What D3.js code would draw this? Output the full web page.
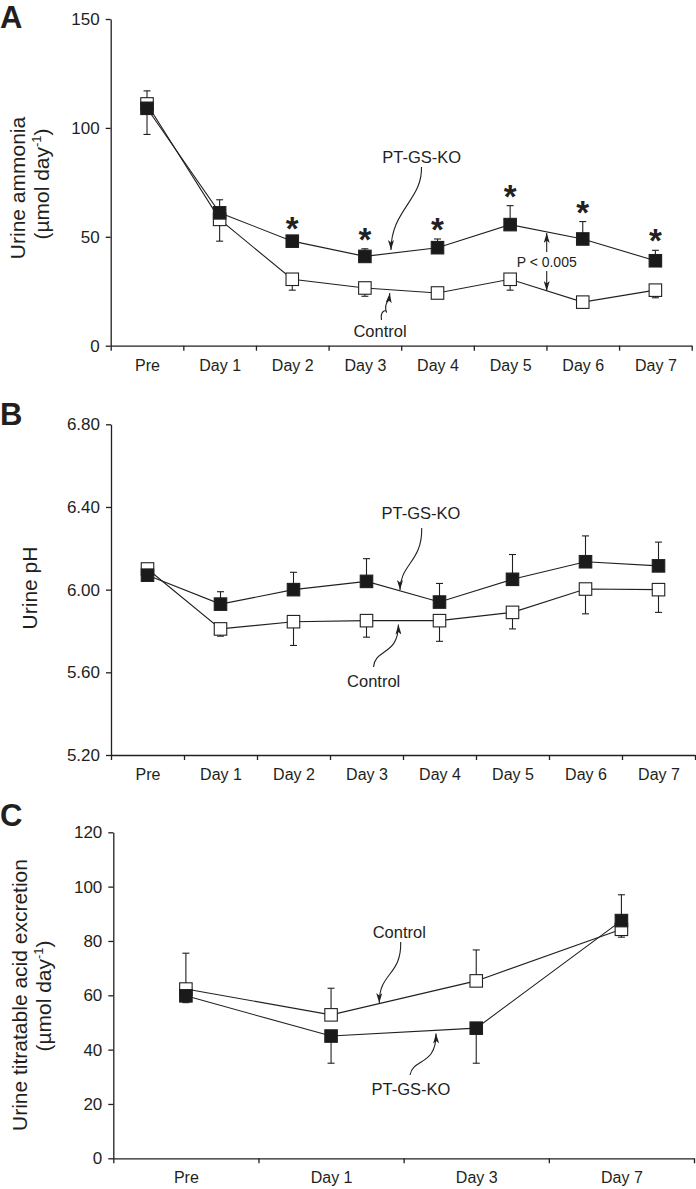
<!DOCTYPE html>
<html><head><meta charset="utf-8">
<script src="https://cdn.jsdelivr.net/npm/d3@7"></script>
<style>
body{margin:0;background:#fff;}
svg{display:block;font-family:"Liberation Sans", Arial, Helvetica, sans-serif;}
</style></head><body>
<svg id="chart" width="696" height="1189"></svg>
<script>
// ---------- Panel A: urine ammonia (µmol/day) ----------
const ammoniaDays = ["Pre", "Day 1", "Day 2", "Day 3", "Day 4", "Day 5", "Day 6", "Day 7"];
const ammoniaControl = [111, 58, 30.5, 26.5, 24.2, 30.5, 20, 25.5];
const ammoniaControlErr = [6, -10, -5, -3.8, -1, -5, -1, -3.5];   // + drawn up, - drawn down
const ammoniaKO = [109, 61, 48, 41, 45, 55.6, 49, 39];
const ammoniaKOErr = [-12, 6, 1.5, 3.5, 4, 8.7, 8, 4.8];
const ammoniaSig = ["", "", "*", "*", "*", "*", "*", "*"];
const ammoniaTicks = [0, 50, 100, 150];

// ---------- Panel B: urine pH ----------
const phDays = ["Pre", "Day 1", "Day 2", "Day 3", "Day 4", "Day 5", "Day 6", "Day 7"];
const phControl = [6.10, 5.81, 5.845, 5.85, 5.85, 5.89, 6.003, 6.00];
const phControlErr = [0, -0.035, -0.115, -0.08, -0.10, -0.08, -0.12, -0.11];
const phKO = [6.07, 5.93, 6.00, 6.04, 5.94, 6.05, 6.135, 6.115];
const phKOErr = [0, 0.06, 0.084, 0.11, 0.09, 0.12, 0.125, 0.115];
const phTicks = [5.2, 5.6, 6.0, 6.4, 6.8];

// ---------- Panel C: urine titratable acid (µmol/day) ----------
const taDays = ["Pre", "Day 1", "Day 3", "Day 7"];
const taControl = [62.3, 52.8, 65.3, 84.3];
const taControlErr = [13.2, 9.8, 11.4, -2.9];
const taKO = [59.8, 45, 47.9, 87.5];
const taKOErr = [-2.5, -10, -12.9, 9.5];
const taTicks = [0, 20, 40, 60, 80, 100, 120];

const INK = "#231f20";
const FONT = '"Liberation Sans", Arial, Helvetica, sans-serif';
const svg = d3.select("#chart");

const defs = svg.append("defs");
defs.append("marker").attr("id", "ah")
  .attr("viewBox", "0 0 10 6").attr("refX", 10).attr("refY", 3)
  .attr("markerWidth", 10.5).attr("markerHeight", 6)
  .attr("markerUnits", "userSpaceOnUse").attr("orient", "auto")
  .append("path").attr("d", "M0,0 L10,3 L0,6 L2.5,3 Z").attr("fill", INK);

function panel(c) {
  const g = svg.append("g");
  const n = c.cats.length;
  const xe = d3.scaleLinear().domain([0, n]).range([c.x0, c.x1]);
  const xp = d3.scalePoint().domain(c.cats).range([xe(0.5), xe(n - 0.5)]);
  const y = d3.scaleLinear().domain(c.domain).range([c.yBottom, c.yTop]);

  const yg = g.append("g").attr("transform", `translate(${c.x0},0)`)
    .call(d3.axisLeft(y).tickValues(c.ticks).tickFormat(c.fmt).tickSize(5).tickSizeOuter(0).tickPadding(6));
  const xg = g.append("g").attr("transform", `translate(0,${c.yBottom})`)
    .call(d3.axisBottom(xe).tickValues(d3.range(n + 1)).tickFormat("").tickSize(5).tickSizeOuter(0));
  const xl = g.append("g").attr("transform", `translate(0,${c.yBottom})`)
    .call(d3.axisBottom(xp).tickSize(0).tickPadding(13.5));
  xl.select(".domain").remove();
  [yg, xg, xl].forEach(a => {
    a.attr("font-family", FONT);
    a.selectAll("path,line").attr("stroke", INK).attr("stroke-width", 1.3);
    a.selectAll("text").attr("fill", INK);
  });
  yg.attr("font-size", 17);
  xl.attr("font-size", 16);

  c.title.forEach(t => {
    const tx = g.append("text")
      .attr("transform", `translate(${t.x},${t.y}) rotate(-90)`)
      .attr("text-anchor", "middle").attr("font-size", 21).attr("fill", INK);
    tx.append("tspan").text(t.text);
    if (t.sup) {
      tx.append("tspan").attr("font-size", 13).attr("dy", -8).text(t.sup);
      tx.append("tspan").attr("dy", 8).text(t.after);
    }
  });

  g.append("text").attr("x", c.letterX).attr("y", c.letterY)
    .attr("font-size", 31).attr("font-weight", "bold").attr("fill", INK).text(c.letter);

  const line = d3.line().x((d, i) => xp(c.cats[i])).y(d => y(d));
  const series = [
    { v: c.ctrl, e: c.ctrlErr, fill: "#fff" },
    { v: c.ko, e: c.koErr, fill: "#1a1a1a" }
  ];
  series.forEach(s => {
    g.append("path").datum(s.v).attr("d", line)
      .attr("fill", "none").attr("stroke", INK).attr("stroke-width", 1.1);
  });
  series.forEach(s => {
    s.v.forEach((v, i) => {
      if (!s.e[i]) return;
      const x = xp(c.cats[i]);
      const y1 = y(v), y2 = y(v + s.e[i]);
      g.append("line").attr("x1", x).attr("x2", x).attr("y1", y1).attr("y2", y2)
        .attr("stroke", INK).attr("stroke-width", 1.1);
      g.append("line").attr("x1", x - 3.5).attr("x2", x + 3.5).attr("y1", y2).attr("y2", y2)
        .attr("stroke", INK).attr("stroke-width", 1.1);
    });
  });
  const S = 12.5;
  series.forEach(s => {
    g.selectAll(null).data(s.v).enter().append("rect")
      .attr("x", (d, i) => xp(c.cats[i]) - S / 2)
      .attr("y", d => y(d) - S / 2)
      .attr("width", S).attr("height", S)
      .attr("fill", s.fill).attr("stroke", INK).attr("stroke-width", 1.1);
  });

  if (c.sig) {
    c.sig.forEach((s, i) => {
      if (!s) return;
      const top = y(c.ko[i] + Math.max(0, c.koErr[i]));
      g.append("text").attr("x", xp(c.cats[i])).attr("y", top - 17 + 19)
        .attr("text-anchor", "middle").attr("font-size", 33).attr("font-weight", "bold")
        .attr("fill", INK).text(s);
    });
  }

  c.notes.forEach(a => {
    g.append("text").attr("x", a.x).attr("y", a.y).attr("text-anchor", "middle")
      .attr("font-size", a.size || 16.5).attr("fill", INK).text(a.text);
  });
  c.arrows.forEach(d => {
    g.append("path").attr("d", d).attr("fill", "none").attr("stroke", INK)
      .attr("stroke-width", 1.1).attr("marker-end", "url(#ah)");
  });
}

panel({
  letter: "A", letterX: 0, letterY: 28,
  x0: 110.7, x1: 691.7, yTop: 19, yBottom: 345.7,
  domain: [0, 150], ticks: ammoniaTicks, fmt: d3.format("d"),
  cats: ammoniaDays, ctrl: ammoniaControl, ctrlErr: ammoniaControlErr,
  ko: ammoniaKO, koErr: ammoniaKOErr, sig: ammoniaSig,
  title: [
    { x: 25, y: 188, text: "Urine ammonia" },
    { x: 49, y: 184, text: "(µmol day", sup: "-1", after: ")" }
  ],
  notes: [
    { x: 421.7, y: 163, text: "PT-GS-KO" },
    { x: 380, y: 336.5, text: "Control" },
    { x: 546.7, y: 266.7, text: "P < 0.005", size: 14 }
  ],
  arrows: [
    "M421.5,167 C422.5,200 391,210 391,250",
    "M381.5,320 C380,311 386,309 386.5,312 C387,314 383,305 389,300 L389.8,293",
    "M546.7,252 L546.7,233",
    "M546.7,271 L546.7,291"
  ]
});

panel({
  letter: "B", letterX: 0, letterY: 425,
  x0: 111, x1: 695, yTop: 424.3, yBottom: 755,
  domain: [5.2, 6.8], ticks: phTicks, fmt: d3.format(".2f"),
  cats: phDays, ctrl: phControl, ctrlErr: phControlErr,
  ko: phKO, koErr: phKOErr, sig: null,
  title: [{ x: 37, y: 588, text: "Urine pH" }],
  notes: [
    { x: 421, y: 518.6, text: "PT-GS-KO" },
    { x: 373.7, y: 686.5, text: "Control" }
  ],
  arrows: [
    "M421.7,528 C422.5,562 400,564 400,590",
    "M373.5,667 C375,648 398.5,656 398.4,624.5"
  ]
});

panel({
  letter: "C", letterX: 0, letterY: 826,
  x0: 113.3, x1: 694, yTop: 832.3, yBottom: 1158.3,
  domain: [0, 120], ticks: taTicks, fmt: d3.format("d"),
  cats: taDays, ctrl: taControl, ctrlErr: taControlErr,
  ko: taKO, koErr: taKOErr, sig: null,
  title: [
    { x: 27, y: 995, text: "Urine titratable acid excretion" },
    { x: 51, y: 996, text: "(µmol day", sup: "-1", after: ")" }
  ],
  notes: [
    { x: 399.3, y: 937.6, text: "Control" },
    { x: 411, y: 1095, text: "PT-GS-KO" }
  ],
  arrows: [
    "M400.7,942 C401.5,976 379,972 379.3,1003",
    "M410,1075 C413,1058 436.5,1066 436,1033.5"
  ]
});
</script>
</body></html>
